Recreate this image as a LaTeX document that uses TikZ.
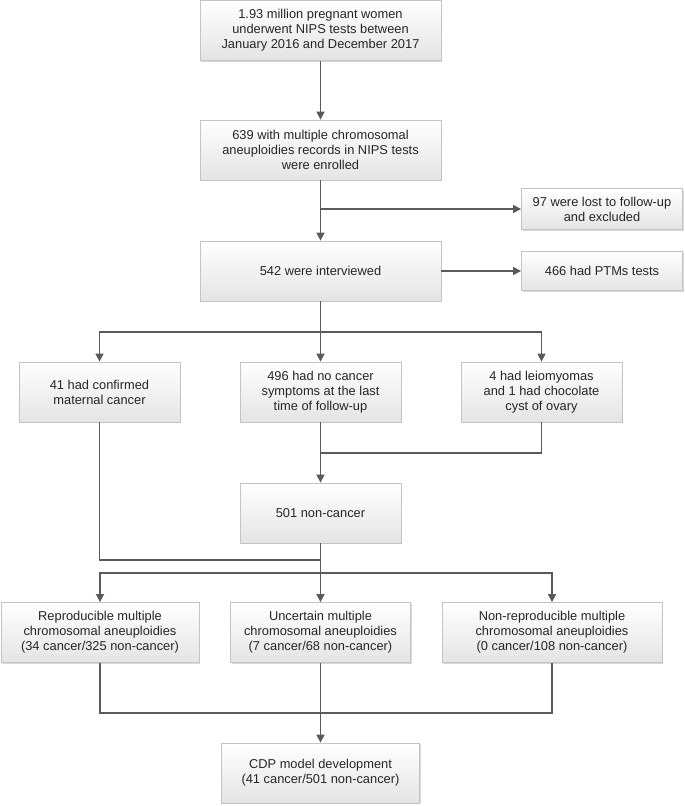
\documentclass[tikz,border=0pt]{standalone}
\usepackage{fontspec}
\setmainfont{Liberation Sans}
\usetikzlibrary{arrows.meta,shadows,calc}
\definecolor{linec}{HTML}{5A5A5A}
\definecolor{boxline}{HTML}{C4C4C4}
\definecolor{boxbot}{HTML}{E4E4E4}
\definecolor{txt}{HTML}{262626}
\begin{document}
\begin{tikzpicture}[x=1bp,y=-1bp,
  box/.style={draw=boxline, line width=0.8bp, top color=white, bottom color=boxbot,
    drop shadow={shadow xshift=1.2bp, shadow yshift=-1.2bp, fill=black, opacity=0.15},
    align=center, font=\fontsize{12.9}{15.2}\selectfont, text=txt, inner sep=0pt},
  conn/.style={draw=linec, line width=1.5bp},
  arr/.style={conn, -{Triangle[length=8bp,width=8bp]}},
]
\useasboundingbox (0,0) rectangle (685,806);

\node[box, minimum width=241bp, minimum height=60bp] (b1) at (320.5,30.5)
  {1.93 million pregnant women\\underwent NIPS tests between\\January 2016 and December 2017};
\node[box, minimum width=241bp, minimum height=60bp] (b2) at (320.5,150)
  {639 with multiple chromosomal\\aneuploidies records in NIPS tests\\were enrolled};
\node[box, minimum width=161bp, minimum height=41bp] (lost) at (602,209)
  {97 were lost to follow-up\\and excluded};
\node[box, minimum width=241bp, minimum height=60bp] (b3) at (320.5,271)
  {542 were interviewed};
\node[box, minimum width=161bp, minimum height=39bp] (ptm) at (602,271)
  {466 had PTMs tests};

\node[box, minimum width=161bp, minimum height=60bp] (c41) at (99.5,392)
  {41 had confirmed\\maternal cancer};
\node[box, minimum width=161bp, minimum height=60bp] (c496) at (320.5,392)
  {496 had no cancer\\symptoms at the last\\time of follow-up};
\node[box, minimum width=161bp, minimum height=60bp] (c4) at (541.5,392)
  {4 had leiomyomas\\and 1 had chocolate\\cyst of ovary};
\node[box, minimum width=161bp, minimum height=60bp] (nc) at (320.5,513)
  {501 non-cancer};

\node[box, minimum width=198bp, minimum height=60bp] (r1) at (100,632.5)
  {Reproducible multiple\\chromosomal aneuploidies\\(34 cancer/325 non-cancer)};
\node[box, minimum width=180bp, minimum height=60bp] (r2) at (320.5,632.5)
  {Uncertain multiple\\chromosomal aneuploidies\\(7 cancer/68 non-cancer)};
\node[box, minimum width=220bp, minimum height=60bp] (r3) at (552,632.5)
  {Non-reproducible multiple\\chromosomal aneuploidies\\(0 cancer/108 non-cancer)};
\node[box, minimum width=198bp, minimum height=60bp] (cdp) at (320.5,773)
  {CDP model development\\(41 cancer/501 non-cancer)};

\draw[arr] (b1) -- (b2);
\draw[arr] (b2) -- (b3);
\draw[arr] (b2.south |- lost.west) -- (lost.west);
\draw[arr] (b3.east |- ptm.west) -- (ptm.west);

\coordinate (s1) at (320.5,332);
\draw[arr] (b3.south) -- (c496.north);
\draw[arr] (s1) -| (c41.north);
\draw[arr] (s1) -| (c4.north);

\coordinate (m1) at (320.5,453);
\draw[arr] (c496.south) -- (nc.north);
\draw[conn] (c4.south) |- (m1);

\coordinate (m2) at (320.5,560);
\coordinate (s2) at (320.5,573);
\draw[conn] (c41.south) |- (m2);
\draw[arr] (nc.south) -- (r2.north);
\draw[arr] (s2) -| (r1.north);
\draw[arr] (s2) -| (r3.north);

\coordinate (m3) at (320.5,713);
\draw[conn] (r1.south) |- (m3);
\draw[conn] (r3.south) |- (m3);
\draw[arr] (r2.south) -- (cdp.north);
\end{tikzpicture}
\end{document}
